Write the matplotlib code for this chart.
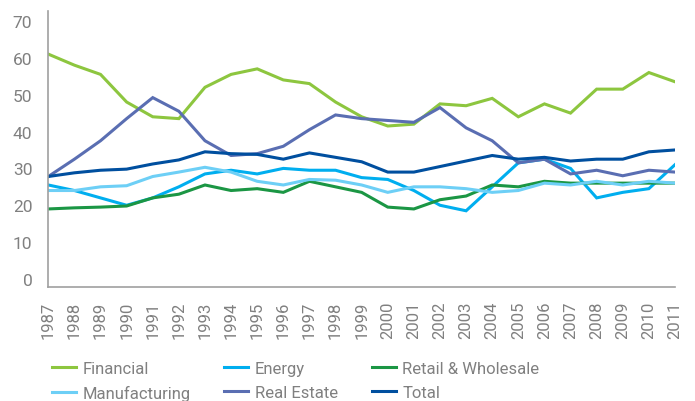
import matplotlib
matplotlib.use("Agg")
import matplotlib.pyplot as plt
from matplotlib.lines import Line2D

years = list(range(1987, 2012))
financial = [61, 58, 55.5, 48, 44, 43.5, 52, 55.5, 57, 54, 53, 48, 44, 41.5, 42, 47.5, 47, 49, 44, 47.5, 45, 51.5, 51.5, 56, 53.5]
energy = [25.5, 24, 22, 20, 22, 25, 28.5, 29.5, 28.5, 30, 29.5, 29.5, 27.5, 27, 24, 20, 18.5, 25, 31.5, 32.5, 30, 22, 23.5, 24.5, 31]
retail = [19, 19.3, 19.5, 19.8, 22, 23, 25.5, 24, 24.5, 23.5, 26.5, 25, 23.5, 19.5, 19, 21.5, 22.5, 25.5, 25, 26.5, 26, 26, 26, 26, 26]
manufacturing = [24, 24, 25, 25.3, 27.8, 29, 30.3, 29, 26.5, 25.5, 27, 26.8, 25.5, 23.5, 25, 25, 24.5, 23.5, 24, 26, 25.5, 26.5, 25.5, 26.5, 26]
real_estate = [27.8, 32.5, 37.5, 43.5, 49.2, 45.5, 37.5, 33.5, 34, 36, 40.5, 44.5, 43.5, 43, 42.5, 46.5, 41, 37.5, 31.5, 32.5, 28.5, 29.5, 28, 29.5, 29]
total = [27.8, 28.8, 29.5, 29.8, 31.2, 32.3, 34.5, 34, 33.8, 32.5, 34.2, 33, 31.8, 29, 29, 30.5, 32, 33.5, 32.5, 33, 32, 32.5, 32.5, 34.5, 35]

series = [
    ("Financial", financial, "#8dc63f"),
    ("Energy", energy, "#00aeef"),
    ("Retail & Wholesale", retail, "#1b9644"),
    ("Manufacturing", manufacturing, "#6dcff6"),
    ("Real Estate", real_estate, "#5a6eb2"),
    ("Total", total, "#004f9f"),
]

plt.rcParams['font.family'] = ['Roboto', 'DejaVu Sans']
gray = "#808080"

fig = plt.figure(figsize=(6.95, 4.02), dpi=100)
ax = fig.add_axes([0.0695, 0.2836, 0.9017, 0.6866])

for name, vals, col in series:
    ax.plot(years, vals, color=col, lw=2.2, solid_joinstyle='miter')

ax.set_xlim(1987, 2011)
ax.set_ylim(-2.17, 72.7)
ax.set_yticks(range(0, 80, 10))
ax.set_xticks(years)
ax.set_xticklabels([str(y) for y in years], rotation=90, fontsize=12, color=gray)
ax.tick_params(axis='y', labelsize=12.5, colors=gray, length=0, pad=11.5)
ax.tick_params(axis='x', length=0, pad=10)
for s in ['top', 'right']:
    ax.spines[s].set_visible(False)
for s in ['left', 'bottom']:
    ax.spines[s].set_color("#a0a0a0")
    ax.spines[s].set_linewidth(1.2)

handles = [Line2D([0], [0], color=c, lw=2.2) for _, _, c in series]
labels = [n for n, _, _ in series]
order = [0, 3, 1, 4, 2, 5]
leg = fig.legend([handles[i] for i in order], [labels[i] for i in order], ncol=3,
                 loc='center left', bbox_to_anchor=(0.0748, 0.050), frameon=False,
                 fontsize=12, handlelength=1.45, handletextpad=0.4, borderpad=0,
                 borderaxespad=0, columnspacing=2.0, labelspacing=0.5)
for t in leg.get_texts():
    t.set_color(gray)

fig.savefig("out.png", dpi=100)
